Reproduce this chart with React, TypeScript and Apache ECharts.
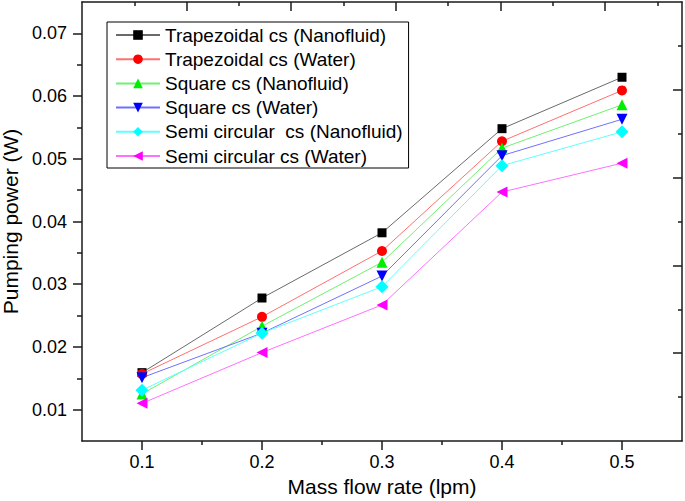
import React, { useEffect, useRef } from "react";
import * as echarts from "echarts";

const flowRates = [0.1, 0.2, 0.3, 0.4, 0.5];
const trapNano = [0.0159, 0.0278, 0.0382, 0.0548, 0.063];
const trapWater = [0.0157, 0.0248, 0.0353, 0.0528, 0.0609];
const squareNano = [0.0125, 0.0233, 0.0335, 0.0517, 0.0586];
const squareWater = [0.0151, 0.0222, 0.0313, 0.0505, 0.0563];
const semiNano = [0.0131, 0.0222, 0.0296, 0.0489, 0.0543];
const semiWater = [0.011, 0.0191, 0.0267, 0.0447, 0.0493];

const xMajor = [0.1, 0.2, 0.3, 0.4, 0.5];
const xMinor = [0.15, 0.25, 0.35, 0.45];
const yMajor = [0.01, 0.02, 0.03, 0.04, 0.05, 0.06, 0.07];
const yMinor = [0.015, 0.025, 0.035, 0.045, 0.055, 0.065];
const topMajor = [2, 4, 6, 8, 10];
const topMinor = [1, 3, 5, 7, 9, 11];
const rightMajor = [2, 4, 6, 8];
const rightMinor = [1, 3, 5, 7, 9];

const FONT = "Liberation Sans, Arial, sans-serif";
const AX = "#1a1a1a";

function pairs(vals: number[]) {
  return flowRates.map((x, i) => [x, vals[i]]);
}

export default function App() {
  const ref = useRef<HTMLDivElement>(null);
  useEffect(() => {
    if (!ref.current) return;
    const chart = echarts.init(ref.current, null, { renderer: "svg" });
    const hidden = { show: false };
    const seriesDefs = [
      { name: "Trapezoidal cs (Nanofluid)", data: trapNano, color: "#000000", line: "#6a6a6a", symbol: "rect", size: 9, rot: 0 },
      { name: "Trapezoidal cs (Water)", data: trapWater, color: "#ff0000", line: "#ff7070", symbol: "circle", size: 10, rot: 0 },
      { name: "Square cs (Nanofluid)", data: squareNano, color: "#00ee00", line: "#70f070", symbol: "triangle", size: 11, rot: 0 },
      { name: "Square cs (Water)", data: squareWater, color: "#0000ff", line: "#7070ff", symbol: "triangle", size: 11, rot: 180 },
      { name: "Semi circular  cs (Nanofluid)", data: semiNano, color: "#00ffff", line: "#60ffff", symbol: "diamond", size: 13, rot: 0 },
      { name: "Semi circular cs (Water)", data: semiWater, color: "#ff00ff", line: "#ff70ff", symbol: "triangle", size: 11, rot: 90 },
    ];
    chart.setOption({
      animation: false,
      backgroundColor: "#ffffff",
      textStyle: { fontFamily: FONT },
      grid: { left: 82, right: 3, top: 2, bottom: 60, containLabel: false, outerBoundsMode: "none" },
      legend: {
        orient: "vertical",
        left: 107,
        top: 22,
        padding: [3, 6, 2, 8],
        itemWidth: 44,
        itemHeight: 12,
        itemGap: 4.2,
        borderColor: "#000",
        borderWidth: 1,
        backgroundColor: "#fff",
        textStyle: { fontSize: 19, color: "#000", fontFamily: FONT, lineHeight: 20 },
        data: seriesDefs.map((s) => s.name),
      },
      xAxis: [
        {
          type: "value",
          min: 0.05,
          max: 0.55,
          position: "bottom",
          name: "Mass flow rate (lpm)",
          nameLocation: "middle",
          nameGap: 34,
          nameTextStyle: { fontSize: 21, color: "#000", fontFamily: FONT },
          axisLine: { lineStyle: { color: AX, width: 1.5 } },
          axisTick: { customValues: xMajor, length: 9, inside: false, lineStyle: { color: AX, width: 1.5 } },
          axisLabel: { customValues: xMajor, fontSize: 18, color: "#000", margin: 12, fontFamily: FONT },
          splitLine: hidden,
        },
        {
          type: "value",
          min: 0.05,
          max: 0.55,
          position: "bottom",
          axisLine: hidden,
          axisTick: { customValues: xMinor, length: 4, inside: false, lineStyle: { color: AX, width: 1.5 } },
          axisLabel: hidden,
          splitLine: hidden,
        },
        {
          type: "value",
          min: 0,
          max: 11.47,
          position: "top",
          axisLine: { lineStyle: { color: AX, width: 1.5 } },
          axisTick: { customValues: topMajor, length: 9, inside: true, lineStyle: { color: AX, width: 1.5 } },
          axisLabel: hidden,
          splitLine: hidden,
        },
        {
          type: "value",
          min: 0,
          max: 11.47,
          position: "top",
          axisLine: hidden,
          axisTick: { customValues: topMinor, length: 4, inside: true, lineStyle: { color: AX, width: 1.5 } },
          axisLabel: hidden,
          splitLine: hidden,
        },
      ],
      yAxis: [
        {
          type: "value",
          min: 0.005,
          max: 0.075,
          position: "left",
          name: "Pumping power (W)",
          nameLocation: "middle",
          nameGap: 58,
          nameTextStyle: { fontSize: 21, color: "#000", fontFamily: FONT },
          axisLine: { lineStyle: { color: AX, width: 1.5 } },
          axisTick: { customValues: yMajor, length: 9, inside: false, lineStyle: { color: AX, width: 1.5 } },
          axisLabel: { customValues: yMajor, fontSize: 18, color: "#000", margin: 15, fontFamily: FONT },
          splitLine: hidden,
        },
        {
          type: "value",
          min: 0.005,
          max: 0.075,
          position: "left",
          axisLine: hidden,
          axisTick: { customValues: yMinor, length: 5, inside: false, lineStyle: { color: AX, width: 1.5 } },
          axisLabel: hidden,
          splitLine: hidden,
        },
        {
          type: "value",
          min: 0,
          max: 10,
          position: "right",
          axisLine: { lineStyle: { color: AX, width: 1.5 } },
          axisTick: { customValues: rightMajor, length: 9, inside: true, lineStyle: { color: AX, width: 1.5 } },
          axisLabel: hidden,
          splitLine: hidden,
        },
        {
          type: "value",
          min: 0,
          max: 10,
          position: "right",
          axisLine: hidden,
          axisTick: { customValues: rightMinor, length: 4, inside: true, lineStyle: { color: AX, width: 1.5 } },
          axisLabel: hidden,
          splitLine: hidden,
        },
      ],
      series: seriesDefs.map((s) => ({
        name: s.name,
        type: "line",
        xAxisIndex: 0,
        yAxisIndex: 0,
        data: pairs(s.data),
        symbol: s.symbol,
        symbolSize: s.size,
        symbolRotate: s.rot,
        showAllSymbol: true,
        itemStyle: { color: s.color, borderWidth: 0 },
        lineStyle: { color: s.line, width: 1 },
        emphasis: { disabled: true },
      })),
    });
    return () => chart.dispose();
  }, []);
  return (
    <div
      ref={ref}
      style={{ position: "fixed", left: 0, top: 0, width: 685, height: 501, background: "#fff" }}
    />
  );
}
